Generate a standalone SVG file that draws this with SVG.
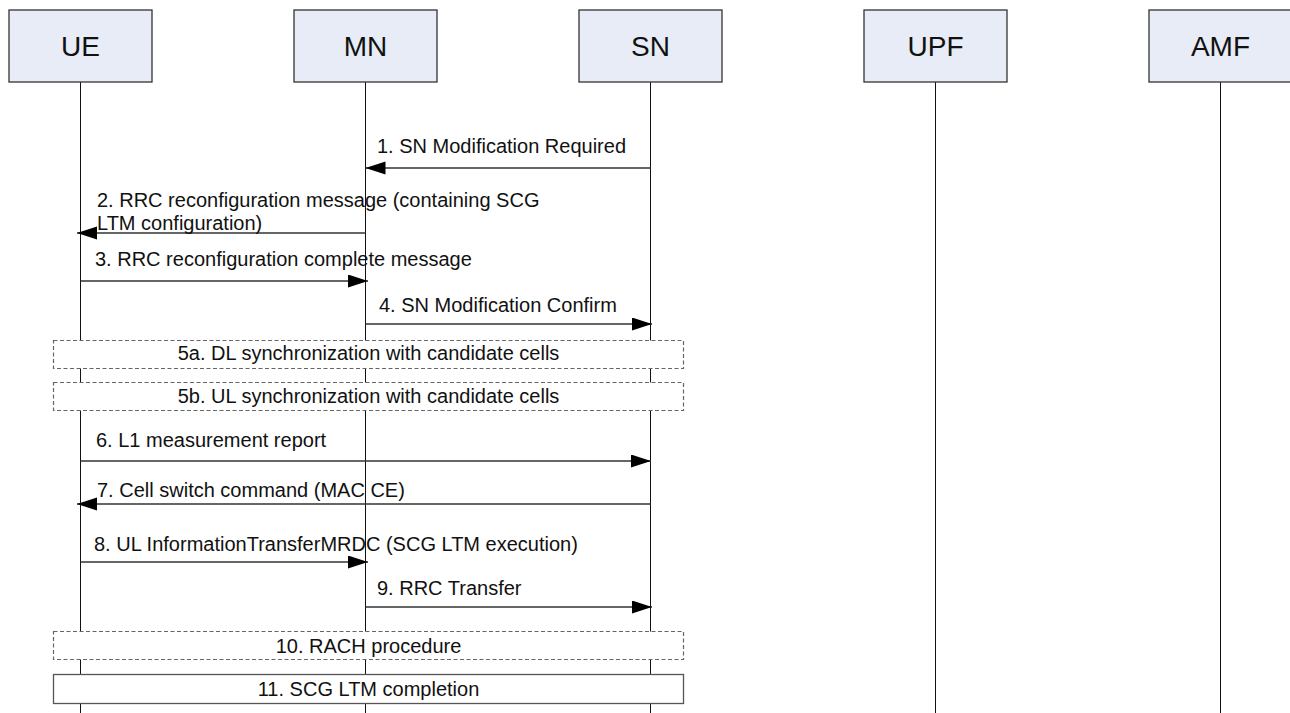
<svg xmlns="http://www.w3.org/2000/svg" width="1290" height="713" viewBox="0 0 1290 713">
<style>
.ent{fill:#E7ECF6;stroke:#333;stroke-width:1.3}
.ent-t{font-family:"Liberation Sans",Arial,sans-serif;font-size:28px;fill:#111;text-anchor:middle}
.life{stroke:#111;stroke-width:1}
.msg{stroke:#333;stroke-width:1.4;fill:none;marker-end:url(#ah)}
.t{font-family:"Liberation Sans",Arial,sans-serif;font-size:20px;fill:#111}
.tc{text-anchor:middle}
.dash{fill:#fff;stroke:#666;stroke-width:1.2;stroke-dasharray:4 2.5}
.solid{fill:#fff;stroke:#555;stroke-width:1.3}
</style>
<defs>
<marker id="ah" markerUnits="userSpaceOnUse" markerWidth="22" markerHeight="14" refX="20" refY="6.5" orient="auto">
<path d="M0,0 L20,6.5 L0,13 z" fill="#000"/>
</marker>
</defs>
<rect width="1290" height="713" fill="#fff"/>
<g id="node-UE"><line class="life" x1="80.5" y1="82" x2="80.5" y2="713"/><rect class="ent" x="9" y="10" width="143" height="72"/><text class="ent-t" x="80.5" y="56">UE</text></g>
<g id="node-MN"><line class="life" x1="365.5" y1="82" x2="365.5" y2="713"/><rect class="ent" x="294" y="10" width="143" height="72"/><text class="ent-t" x="365.5" y="56">MN</text></g>
<g id="node-SN"><line class="life" x1="650.5" y1="82" x2="650.5" y2="713"/><rect class="ent" x="579" y="10" width="143" height="72"/><text class="ent-t" x="650.5" y="56">SN</text></g>
<g id="node-UPF"><line class="life" x1="935.5" y1="82" x2="935.5" y2="713"/><rect class="ent" x="864" y="10" width="143" height="72"/><text class="ent-t" x="935.5" y="56">UPF</text></g>
<g id="node-AMF"><line class="life" x1="1220.5" y1="82" x2="1220.5" y2="713"/><rect class="ent" x="1149" y="10" width="143" height="72"/><text class="ent-t" x="1220.5" y="56">AMF</text></g>
<g id="node-5a"><rect class="dash" x="53.5" y="340.5" width="630" height="28"/><text class="t tc" x="368.5" y="360">5a. DL synchronization with candidate cells</text></g>
<g id="node-5b"><rect class="dash" x="53.5" y="382.5" width="630" height="28"/><text class="t tc" x="368.5" y="403">5b. UL synchronization with candidate cells</text></g>
<g id="node-10"><rect class="dash" x="53.5" y="631.5" width="630" height="28"/><text class="t tc" x="368.5" y="653">10. RACH procedure</text></g>
<g id="node-11"><rect class="solid" x="53.5" y="674.5" width="630" height="29"/><text class="t tc" x="368.5" y="696">11. SCG LTM completion</text></g>
<g id="connectors">
<line class="msg" x1="650.5" y1="168" x2="365.5" y2="168"/>
<line class="msg" x1="365.5" y1="233" x2="77" y2="233"/>
<line class="msg" x1="80.5" y1="281" x2="368" y2="281"/>
<line class="msg" x1="365.5" y1="324" x2="652" y2="324"/>
<line class="msg" x1="80.5" y1="461" x2="651" y2="461"/>
<line class="msg" x1="650.5" y1="504" x2="77" y2="504"/>
<line class="msg" x1="80.5" y1="562" x2="368" y2="562"/>
<line class="msg" x1="365.5" y1="607" x2="652" y2="607"/>
</g>
<g id="labels">
<text class="t" x="377" y="153">1. SN Modification Required</text>
<text class="t" x="97" y="207">2. RRC reconfiguration message (containing SCG</text>
<text class="t" x="97" y="230">LTM configuration)</text>
<text class="t" x="95" y="266">3. RRC reconfiguration complete message</text>
<text class="t" x="379" y="312">4. SN Modification Confirm</text>
<text class="t" x="96" y="447">6. L1 measurement report</text>
<text class="t" x="97" y="497">7. Cell switch command (MAC CE)</text>
<text class="t" x="94" y="551">8. UL InformationTransferMRDC (SCG LTM execution)</text>
<text class="t" x="377" y="595">9. RRC Transfer</text>
</g>
</svg>
